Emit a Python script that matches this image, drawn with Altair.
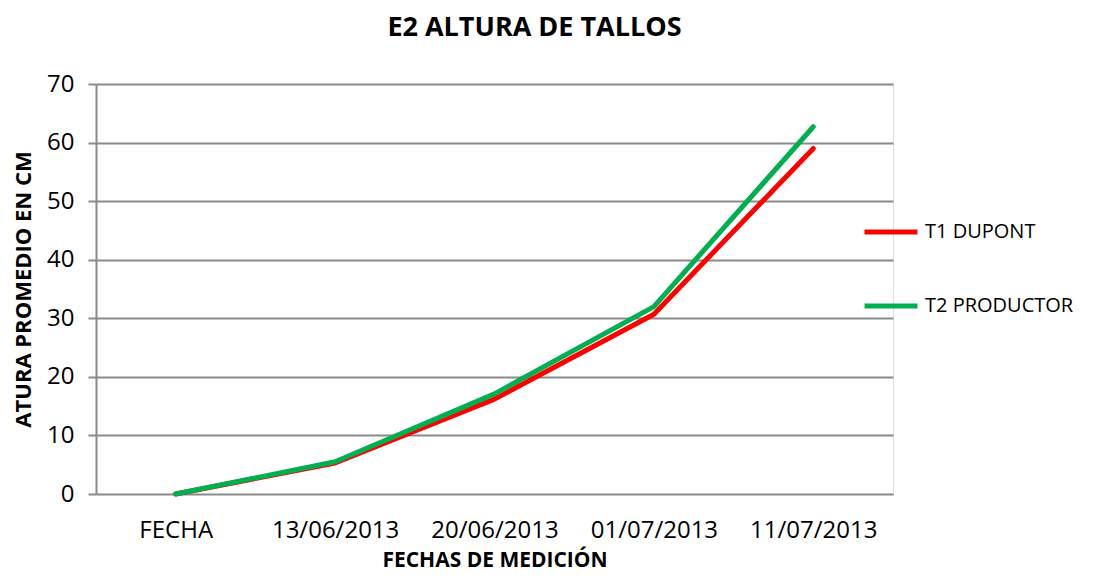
import altair as alt
import pandas as pd

fechas = ["FECHA", "13/06/2013", "20/06/2013", "01/07/2013", "11/07/2013"]
t1_dupont = [0, 5.3, 16.2, 30.7, 59.0]
t2_productor = [0, 5.5, 17.1, 32.0, 62.7]
series_names = ["T1 DUPONT", "T2 PRODUCTOR"]
series_colors = ["#FF0000", "#00B050"]

rows = []
for i, f in enumerate(fechas):
    rows.append({"fecha": f, "serie": series_names[0], "valor": t1_dupont[i], "ord": i})
for i, f in enumerate(fechas):
    rows.append({"fecha": f, "serie": series_names[1], "valor": t2_productor[i], "ord": i})
df = pd.DataFrame(rows)

FONT = "Open Sans"
GRID = "#8a8a8a"

chart = alt.Chart(df).mark_line(strokeWidth=5, strokeCap="round", strokeJoin="round").encode(
    x=alt.X("fecha:N", sort=fechas,
            scale=alt.Scale(type="point", padding=0.5),
            axis=alt.Axis(title="FECHAS DE MEDICIÓN", labelAngle=0, ticks=False, domain=False,
                          grid=False, labelFontSize=24, labelFont=FONT, labelColor="#000000",
                          labelPadding=24, titleFont=FONT, titleFontSize=21, titleFontWeight="bold",
                          titleColor="#000000", titlePadding=7)),
    y=alt.Y("valor:Q", scale=alt.Scale(domain=[0, 70], nice=False),
            axis=alt.Axis(title="ATURA PROMEDIO EN CM", values=[0, 10, 20, 30, 40, 50, 60, 70],
                          tickSize=8, tickColor=GRID, tickWidth=2, domainColor=GRID, domainWidth=2,
                          gridColor=GRID, gridWidth=2, labelFontSize=24, labelFont=FONT,
                          labelColor="#000000", labelPadding=14, titleFont=FONT, titleFontSize=22,
                          titleFontWeight="bold", titleColor="#000000",
                          titleX=-73, titleY=205, titleAlign="center", titleBaseline="middle")),
    color=alt.Color("serie:N", scale=alt.Scale(domain=series_names, range=series_colors),
                    legend=alt.Legend(title=None, orient="none", legendX=766, legendY=119,
                                      symbolType="stroke", symbolSize=2800, symbolStrokeWidth=5,
                                      labelFont=FONT, labelFontSize=20, labelColor="#000000",
                                      labelOffset=5, labelLimit=400, rowPadding=35, padding=0)),
    order=alt.Order("ord:Q"),
).properties(
    width=797,
    height=410,
    title=alt.TitleParams("E2 ALTURA DE TALLOS", font=FONT, fontSize=27, fontWeight="bold",
                          color="#000000", anchor="middle", dx=40, offset=30),
    autosize=alt.AutoSizeParams(type="none"),
    padding={"left": 88, "top": 76, "right": 194, "bottom": 78},
).configure_view(stroke=None).configure(background="#ffffff")

chart.save("out.html", embed_options={"renderer": "svg", "actions": False})
